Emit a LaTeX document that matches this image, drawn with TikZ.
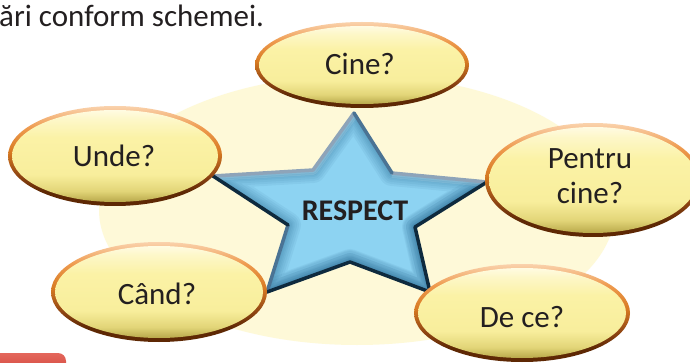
\documentclass[tikz,border=0pt]{standalone}
\usepackage{fontspec}
\setmainfont{Carlito}
\usetikzlibrary{shapes.geometric}
\definecolor{ink}{HTML}{231F20}
\definecolor{cream}{HTML}{FEF9D8}
\definecolor{starblue}{HTML}{8DD3F2}
\definecolor{stardeep}{HTML}{1E5F8A}
\definecolor{edgelight}{HTML}{8EA4B9}
\definecolor{edgemid}{HTML}{4A7394}
\definecolor{edgedark}{HTML}{0E2A3E}
\definecolor{redtop}{HTML}{E4675C}
\definecolor{redbot}{HTML}{C8342C}
\definecolor{bf0}{HTML}{B8A84A}
\definecolor{bf1}{HTML}{E2D578}
\definecolor{bf2}{HTML}{F8EE9C}
\definecolor{bf3}{HTML}{FBF2A6}
\definecolor{bf4}{HTML}{FDF7C8}
\definecolor{bf5}{HTML}{FFFBE2}
\definecolor{rf0}{HTML}{5E2804}
\definecolor{rf1}{HTML}{8E4412}
\definecolor{rf2}{HTML}{D77A22}
\definecolor{rf3}{HTML}{EE9A4E}
\definecolor{rf4}{HTML}{FAD2AC}
\pgfdeclareverticalshading{bubshade}{100bp}{color(0bp)=(bf0); color(25bp)=(bf0); color(31bp)=(bf1); color(40bp)=(bf2); color(60bp)=(bf3); color(70bp)=(bf4); color(75bp)=(bf5); color(100bp)=(bf5)}
\pgfdeclareverticalshading{rimshade}{100bp}{color(0bp)=(rf0); color(25bp)=(rf0); color(32bp)=(rf0); color(40bp)=(rf1); color(52bp)=(rf2); color(64bp)=(rf3); color(75bp)=(rf4); color(100bp)=(rf4)}
\begin{document}
\begin{tikzpicture}[x=1pt,y=-1pt,
  rim/.style={ellipse, inner sep=0pt, shade, shading=rimshade, draw=none},
  bub/.style={ellipse, inner sep=0pt, shade, shading=bubshade, draw=none},
  lbl/.style={font=\fontsize{31}{35}\selectfont, text=ink, align=center, inner sep=0pt},
  staredge/.style={line width=3.5pt, line cap=round, line join=round},
  glow/.style={stardeep, opacity=0.07, line join=round},
  starp/.style={insert path={(sT)--(sI1)--(sR)--(sI2)--(sBR)--(sI3)--(sBL)--(sI4)--(sL)--(sI5)--cycle}}
]
\useasboundingbox (0,0) rectangle (690,363);
\begin{scope}
\clip (0,0) rectangle (690,363);
\fill[white] (0,0) rectangle (690,363);
% background
\fill[cream] (357,210) ellipse [x radius=258pt, y radius=135pt];
% star
\coordinate (sT) at (354,113);
\coordinate (sI1) at (392,173);
\coordinate (sR) at (487,182);
\coordinate (sI2) at (415,227);
\coordinate (sBR) at (430,292);
\coordinate (sI3) at (350,262);
\coordinate (sBL) at (267,292);
\coordinate (sI4) at (288,225);
\coordinate (sL) at (213,176);
\coordinate (sI5) at (313,170);
\begin{scope}
  \clip[starp];
  \fill[starblue, starp];
  \foreach \w in {26,22,18,14,11,8,5}{
    \draw[glow, line width=\w pt, starp];
  }
  \foreach \w in {24,18,12,7}{
    \draw[stardeep, opacity=0.08, line width=\w pt, line join=round] (sR)--(sI2)--(sBR)--(sI3)--(sBL);
  }
  \foreach \w in {10,6}{
    \draw[white, opacity=0.12, line width=\w pt, line join=round] (sL)--(sI5)--(sT);
    \draw[white, opacity=0.12, line width=\w pt, line join=round] (sI1)--(sR);
  }
\end{scope}
\draw[staredge, edgelight] (sL)--(sI5)--(sT);
\draw[staredge, edgelight] (sI1)--(sR);
\draw[staredge, edgemid] (sT)--(sI1);
\draw[staredge, edgemid] (sBL)--(sI4);
\draw[staredge, edgedark] (sR)--(sI2)--(sBR)--(sI3)--(sBL);
\draw[staredge, edgedark] (sI4)--(sL);
\node[font=\bfseries\fontsize{30}{36}\selectfont, text=ink, inner sep=0pt] (respect) at (355,211) {RESPECT};
% bubbles
\node[rim, minimum width=214pt, minimum height=86pt] (cinerim) at (362,65) {};
\node[bub, minimum width=206pt, minimum height=78pt] (cine) at (362,65) {};
\node[lbl] (cinetxt) at (360,64) {Cine?};
\node[rim, minimum width=214pt, minimum height=100pt] (underim) at (115,156) {};
\node[bub, minimum width=206pt, minimum height=92pt] (unde) at (115,156) {};
\node[lbl] (undetxt) at (114,156) {Unde?};
\node[rim, minimum width=216pt, minimum height=114pt] (pentrurim) at (593,180) {};
\node[bub, minimum width=208pt, minimum height=106pt] (pentru) at (593,180) {};
\node[lbl] (pentrutxt) at (590,176) {Pentru\\cine?};
\node[rim, minimum width=216pt, minimum height=100pt] (candrim) at (159,292) {};
\node[bub, minimum width=208pt, minimum height=92pt] (cand) at (159,292) {};
\node[lbl] (candtxt) at (157,294) {Când?};
\node[rim, minimum width=216pt, minimum height=98pt] (decerim) at (522,313) {};
\node[bub, minimum width=208pt, minimum height=90pt] (dece) at (522,313) {};
\node[lbl] (decetxt) at (522,317) {De ce?};
% red tab
\shade[top color=redtop, bottom color=redbot, rounded corners=8pt] (-10,353) rectangle (66,385);
% title
\node[anchor=base west, inner sep=0pt, font=\fontsize{31}{37}\selectfont, text=ink] (title) at (-1,27) {ări conform schemei.};
\end{scope}
\end{tikzpicture}
\end{document}
